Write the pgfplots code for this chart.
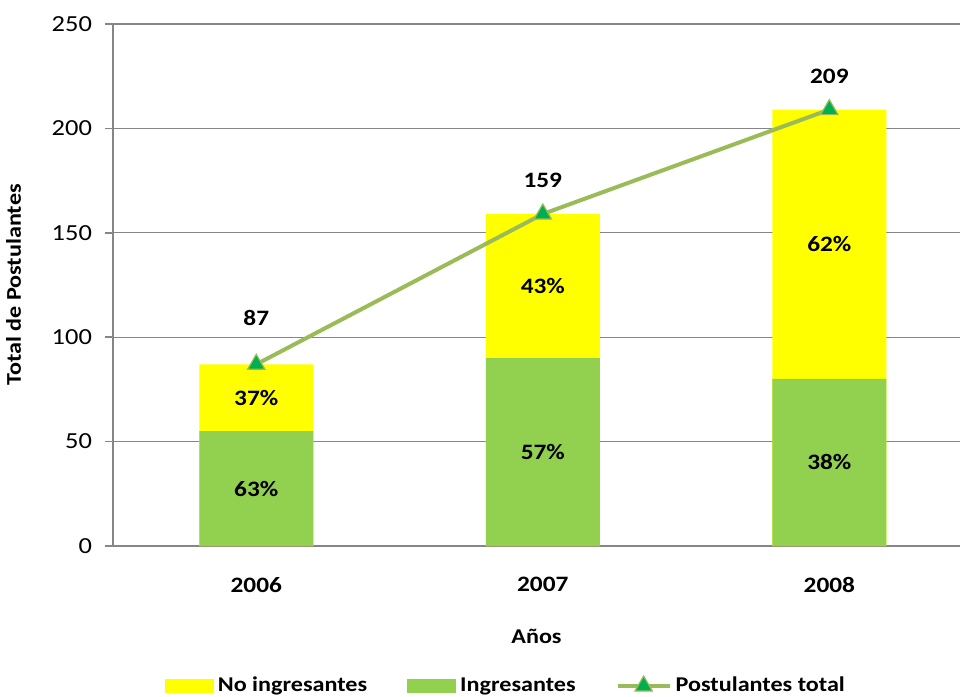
\documentclass[border=0pt]{standalone}
\usepackage{fontspec}
\setmainfont{Carlito}[FakeStretch=1.15]
\usepackage{pgfplots}
\pgfplotsset{compat=1.18}
\definecolor{barY}{HTML}{FFFF00}
\definecolor{barG}{HTML}{92D050}
\definecolor{lineG}{HTML}{9BBB59}
\definecolor{markG}{HTML}{00B050}
\definecolor{axgray}{HTML}{868686}
\begin{document}
\begin{tikzpicture}
\path[use as bounding box] (-56.5pt,-75.5pt) rectangle (423.5pt,273pt);
\begin{axis}[
  at={(0,0)}, anchor=south west,
  scale only axis, width=423.5pt, height=261pt,
  xmin=-0.5, xmax=2.456, ymin=0, ymax=250,
  axis x line*=bottom, axis y line*=left,
  axis line style={axgray, line width=0.8pt},
  xtick={0,1,2}, xticklabels={2006,2007,2008},
  x tick label style={font=\fontsize{11}{13}\selectfont\bfseries, yshift=-8pt},
  major x tick style={draw=none},
  extra x ticks={-0.5,0.5,1.5,2.5}, extra x tick labels={},
  extra x tick style={major tick length=4pt, tick style={axgray, line width=0.8pt}, tick align=outside, grid=none},
  ytick={0,50,100,150,200,250},
  y tick label style={font=\fontsize{11.5}{13}\selectfont, xshift=-3pt},
  tick align=outside, major tick length=4pt,
  tick style={axgray, line width=0.8pt},
  ymajorgrids, grid style={axgray, line width=0.6pt},
  /pgf/number format/assume math mode=true,
  xlabel={Años}, ylabel={Total de Postulantes},
  label style={font=\fontsize{10.5}{12}\selectfont\bfseries},
  xlabel style={yshift=-3.5pt},
  ylabel style={yshift=8.5pt},
  bar width=57pt,
  legend columns=3,
  legend style={draw=none, at={(axis description cs:0.465,0)}, anchor=center, yshift=-70pt,
    font=\fontsize{10.5}{12}\selectfont\bfseries,
    /tikz/every even column/.append style={column sep=18pt}},
  clip=false,
]
\addplot[ybar, bar shift=0pt, fill=barY, draw=none,
  legend image code/.code={\fill[barY] (0pt,-3.5pt) rectangle (24.5pt,3.5pt);}]
  coordinates {(0,87) (1,159) (2,209)};
\addlegendentry{No ingresantes}
\addplot[ybar, bar shift=0pt, fill=barG, draw=none,
  legend image code/.code={\fill[barG] (0pt,-3.5pt) rectangle (24.5pt,3.5pt);}]
  coordinates {(0,55) (1,90) (2,80)};
\addlegendentry{Ingresantes}
\addplot[lineG, line width=2pt, mark=triangle*, mark size=5pt,
  mark options={fill=markG, draw=lineG, line width=0.6pt},
  legend image code/.code={\draw[lineG, line width=2pt] (0pt,0pt) -- (26pt,0pt);
    \draw[lineG, line width=0.6pt, fill=markG] plot[mark=triangle*, mark size=5pt] coordinates {(13pt,0pt)};}]
  coordinates {(0,87) (1,159) (2,209)};
\addlegendentry{Postulantes total}
% percentage labels
\addplot[draw=none, forget plot, nodes near coords, point meta=explicit symbolic,
  every node near coord/.style={anchor=center, font=\fontsize{11}{13}\selectfont\bfseries}]
  coordinates {(0,27.5)[63\%] (0,71)[37\%] (1,45)[57\%] (1,124.5)[43\%] (2,40)[38\%] (2,144.5)[62\%]};
% total labels
\addplot[draw=none, forget plot, nodes near coords, point meta=explicit symbolic,
  every node near coord/.style={anchor=center, font=\fontsize{11}{13}\selectfont\bfseries}]
  coordinates {(0,109.2)[87] (1,175.3)[159] (2,225)[209]};
\end{axis}
\end{tikzpicture}
\end{document}
